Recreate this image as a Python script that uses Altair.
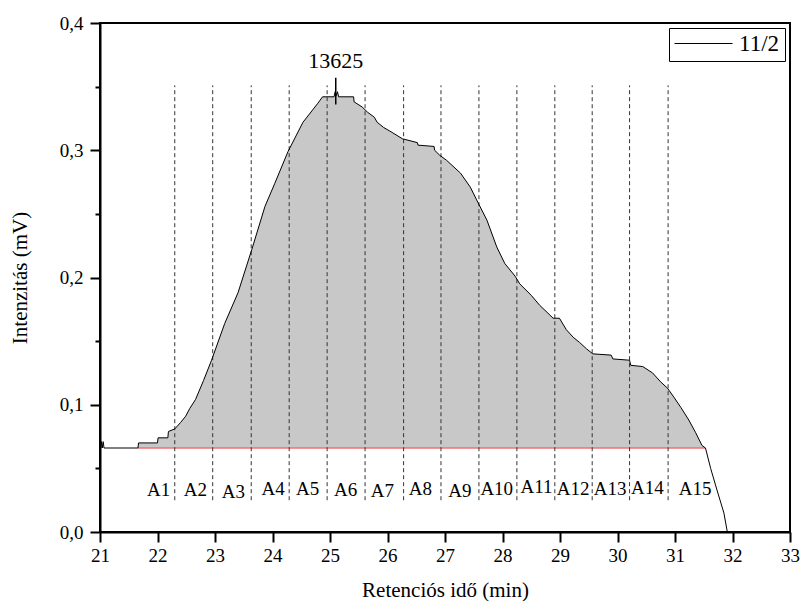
import altair as alt
import pandas as pd

# ---- data ----
curve_x = [21.00, 21.015, 21.025, 21.04, 21.055, 21.07, 21.66, 21.67, 22.00, 22.01,
           22.18, 22.19, 22.30, 22.40, 22.49, 22.56, 22.66, 22.80, 22.94, 23.17,
           23.40, 23.64, 23.87, 24.04, 24.27, 24.53, 24.79, 24.87, 25.07, 25.09,
           25.11, 25.13, 25.15, 25.41, 25.42, 25.56, 25.65, 25.77, 25.82, 25.93,
           26.08, 26.26, 26.52, 26.53, 26.81, 26.82, 26.91, 27.03, 27.27, 27.44,
           27.55, 27.73, 27.90, 28.04, 28.22, 28.30, 28.50, 28.65, 28.79, 28.88,
           28.99, 29.11, 29.23, 29.34, 29.46, 29.57, 29.89, 29.92, 30.21, 30.23,
           30.44, 30.61, 30.75, 30.87, 30.98, 31.10, 31.24, 31.36, 31.47, 31.53,
           31.62, 31.73, 31.85, 31.91]
curve_y = [0.066, 0.066, 0.071, 0.066, 0.071, 0.066, 0.066, 0.070, 0.070, 0.074,
           0.074, 0.079, 0.081, 0.086, 0.091, 0.097, 0.104, 0.119, 0.135, 0.164,
           0.188, 0.222, 0.256, 0.274, 0.299, 0.322, 0.337, 0.342, 0.342, 0.346,
           0.343, 0.346, 0.342, 0.342, 0.338, 0.334, 0.330, 0.326, 0.322, 0.318,
           0.314, 0.309, 0.306, 0.304, 0.303, 0.300, 0.296, 0.292, 0.282, 0.271,
           0.261, 0.245, 0.224, 0.211, 0.201, 0.195, 0.186, 0.178, 0.172, 0.168,
           0.168, 0.159, 0.153, 0.149, 0.144, 0.140, 0.139, 0.136, 0.135, 0.131,
           0.130, 0.125, 0.118, 0.113, 0.106, 0.098, 0.088, 0.078, 0.068, 0.066,
           0.050, 0.033, 0.015, 0.000]

baseline_y = 0.066
fill_start = 21.66
fill_end = 31.53

divider_x = [22.30, 22.96, 23.63, 24.29, 24.95, 25.61, 26.28, 26.93, 27.59,
             28.25, 28.91, 29.56, 30.21, 30.88]
divider_top = 0.351
divider_bottom = 0.025

seg_labels = ["A1", "A2", "A3", "A4", "A5", "A6", "A7", "A8", "A9", "A10",
              "A11", "A12", "A13", "A14", "A15"]
seg_label_x = [22.02, 22.66, 23.32, 24.01, 24.61, 25.27, 25.91, 26.57, 27.26,
               27.90, 28.59, 29.23, 29.87, 30.52, 31.35]
seg_label_y = [0.033, 0.033, 0.0315, 0.034, 0.034, 0.033, 0.032, 0.034, 0.032,
               0.034, 0.035, 0.034, 0.034, 0.0345, 0.0335]

peak_x = 25.10
peak_y1 = 0.336
peak_y2 = 0.357
peak_label = "13625"
peak_label_y = 0.3705

series_name = "11/2"

FONT = "Liberation Serif"

# ---- tables ----
curve = pd.DataFrame({"x": curve_x, "y": curve_y, "series": series_name})
fill = curve[(curve.x >= fill_start) & (curve.x <= fill_end)].copy()
fill["y0"] = baseline_y
dividers = pd.DataFrame({"x": divider_x, "y1": divider_bottom, "y2": divider_top})
labels = pd.DataFrame({"x": seg_label_x, "y": seg_label_y, "t": seg_labels})
peak = pd.DataFrame({"x": [peak_x], "y1": [peak_y1], "y2": [peak_y2],
                     "ly": [peak_label_y], "t": [peak_label]})
base = pd.DataFrame({"x": [fill_start], "x2": [fill_end], "y": [baseline_y]})

x_ticks = [21 + 0.5 * i for i in range(25)]
y_ticks = [round(0.05 * i, 2) for i in range(9)]

xscale = alt.Scale(domain=[21, 33], nice=False, zero=False)
yscale = alt.Scale(domain=[0, 0.4], nice=False, zero=False)

x_axis = alt.Axis(
    values=x_ticks,
    title="Retenciós idő (min)",
    labelExpr="datum.value % 1 === 0 ? format(datum.value, 'd') : ''",
    tickSize={"condition": {"test": "datum.value % 1 === 0", "value": 10}, "value": 5},
    grid=False,
    labelFont=FONT, labelFontSize=19, labelColor="black", labelPadding=4,
    titleFont=FONT, titleFontSize=21, titleFontWeight="normal", titleColor="black",
    titleY=64, titleBaseline="alphabetic",
    domainColor="black", domainWidth=2, tickColor="black", tickWidth=2,
    labelFlush=False,
)
y_axis = alt.Axis(
    values=y_ticks,
    title="Intenzitás (mV)",
    labelExpr="round(datum.value*100) % 10 === 0 ? replace(format(datum.value, '.1f'), '.', ',') : ''",
    tickSize={"condition": {"test": "round(datum.value*100) % 10 === 0", "value": 10}, "value": 5},
    grid=False,
    labelFont=FONT, labelFontSize=19, labelColor="black", labelPadding=7,
    titleFont=FONT, titleFontSize=21, titleFontWeight="normal", titleColor="black",
    titleX=-80, titleBaseline="middle",
    domainColor="black", domainWidth=2, tickColor="black", tickWidth=2,
    labelFlush=False,
)

area = alt.Chart(fill).mark_area(color="#c8c8c8", opacity=1).encode(
    x=alt.X("x:Q", scale=xscale, axis=x_axis),
    y=alt.Y("y:Q", scale=yscale, axis=y_axis),
    y2="y0:Q",
)

red = alt.Chart(base).mark_rule(color="#f07070", strokeWidth=1.6).encode(
    x="x:Q", x2="x2:Q", y="y:Q"
)

divs = alt.Chart(dividers).mark_rule(color="#333333", strokeWidth=1, strokeDash=[4, 3]).encode(
    x="x:Q", y="y1:Q", y2="y2:Q"
)

line = alt.Chart(curve).mark_line(strokeWidth=1, interpolate="linear").encode(
    x="x:Q",
    y="y:Q",
    color=alt.Color(
        "series:N",
        scale=alt.Scale(range=["black"]),
        legend=alt.Legend(
            title=None, orient="top-right", offset=5,
            symbolType="stroke", symbolSize=3364, symbolStrokeWidth=1,
            symbolStrokeColor="black",
            labelFont=FONT, labelFontSize=23, labelColor="black", labelOffset=6,
            strokeColor="black", padding=5, labelLimit=200, clipHeight=21,
        ),
    ),
)

peak_rule = alt.Chart(peak).mark_rule(color="black", strokeWidth=1.5).encode(
    x="x:Q", y="y1:Q", y2="y2:Q"
)
peak_text = alt.Chart(peak).mark_text(
    font=FONT, fontSize=22, color="black", baseline="middle", align="center"
).encode(x="x:Q", y="ly:Q", text="t:N")

seg_text = alt.Chart(labels).mark_text(
    font=FONT, fontSize=19, color="black", baseline="middle", align="center"
).encode(x="x:Q", y="y:Q", text="t:N")

chart = alt.layer(area, red, divs, line, peak_rule, peak_text, seg_text).properties(
    width=690, height=509,
    autosize=alt.AutoSizeParams(type="none"),
    padding={"left": 92, "top": 15, "right": 10, "bottom": 69},
    background="white",
).configure_view(stroke="black", strokeWidth=2)

chart.save("out.html", embed_options={"renderer": "svg", "actions": False})
